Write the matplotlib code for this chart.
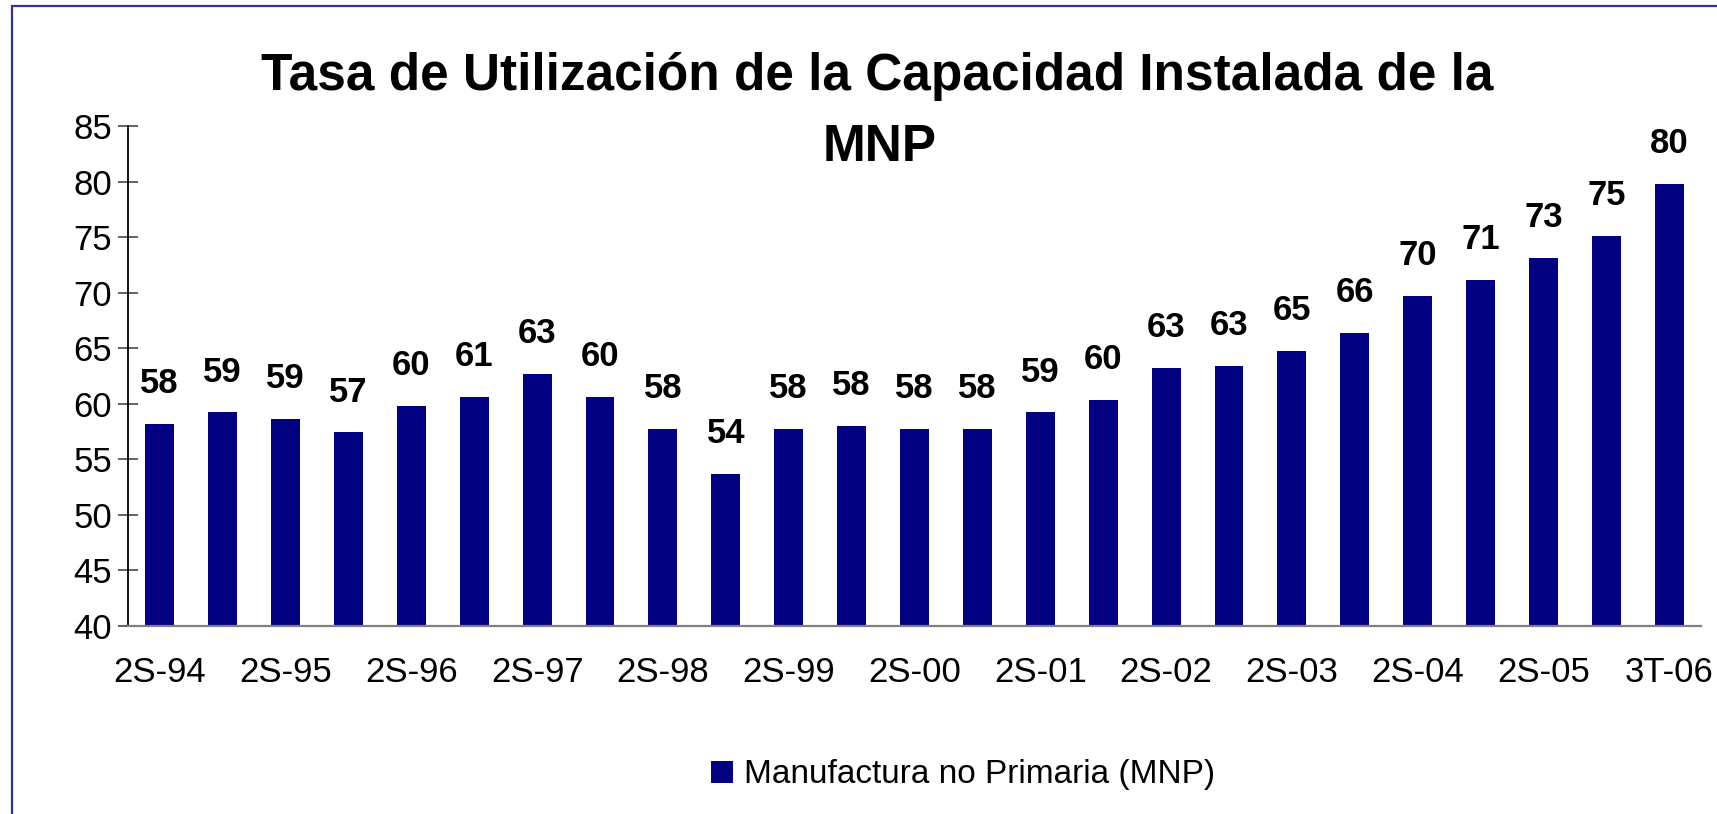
import matplotlib
matplotlib.use("Agg")
import matplotlib.pyplot as plt
from matplotlib.patches import Patch, Rectangle

# ---- data ----
categories = ["2S-94", "1S-95", "2S-95", "1S-96", "2S-96", "1S-97", "2S-97", "1S-98",
              "2S-98", "1S-99", "2S-99", "1S-00", "2S-00", "1S-01", "2S-01", "1S-02",
              "2S-02", "1S-03", "2S-03", "1S-04", "2S-04", "1S-05", "2S-05", "1T-06", "3T-06"]
values = [58.2, 59.2, 58.6, 57.4, 59.8, 60.6, 62.7, 60.6, 57.7, 53.7, 57.7, 58.0, 57.7,
          57.7, 59.2, 60.3, 63.2, 63.4, 64.7, 66.4, 69.7, 71.1, 73.1, 75.1, 79.8]
bar_labels = ["58", "59", "59", "57", "60", "61", "63", "60", "58", "54", "58", "58", "58",
              "58", "59", "60", "63", "63", "65", "66", "70", "71", "73", "75", "80"]
tick_labels = ["2S-94", "2S-95", "2S-96", "2S-97", "2S-98", "2S-99", "2S-00", "2S-01",
               "2S-02", "2S-03", "2S-04", "2S-05", "3T-06"]
title_line1 = "Tasa de Utilización de la Capacidad Instalada de la"
title_line2 = "MNP"
series_name = "Manufactura no Primaria (MNP)"

FONT = ["Liberation Sans", "DejaVu Sans"]
plt.rcParams["font.family"] = FONT

W, H = 1717, 814
fig = plt.figure(figsize=(W / 100, H / 100), dpi=100)

# outer frame (left and top visible)
fig.patches.append(Rectangle((11.8 / W, -0.05), 1.2, 1 - 6 / H + 0.05,
                             transform=fig.transFigure, fill=False,
                             edgecolor="#333399", linewidth=1.6))

ax = fig.add_axes([128.3 / W, 1 - 625.7 / H, 1572.4 / W, (625.7 - 126) / H])
x = list(range(len(values)))
bars = ax.bar(x, values, width=0.46, color="#000080", zorder=2)

ax.set_xlim(-0.5, len(values) - 0.5)
ax.set_ylim(40, 85)
ax.set_yticks(range(40, 86, 5))
ax.set_xticks(x[::2])
ax.set_xticklabels(tick_labels)

for s in ["top", "right"]:
    ax.spines[s].set_visible(False)
ax.spines["left"].set_color("black")
ax.spines["left"].set_linewidth(1.3)
ax.spines["bottom"].set_color("#808080")
ax.spines["bottom"].set_linewidth(1.6)

ax.tick_params(axis="y", direction="inout", length=13.7, width=1.3, color="#555555",
               pad=5, labelsize=25)
ax.tick_params(axis="x", length=0, pad=22, labelsize=25)

for xi, v, lab in zip(x, values, bar_labels):
    ax.annotate(lab, (xi, v), xytext=(0, 22.3), textcoords="offset points",
                ha="center", va="baseline", fontsize=25, fontweight="bold")

fig.text(877 / W, 1 - 90 / H, title_line1, ha="center", va="baseline",
         fontsize=37, fontweight="bold")
fig.text(880 / W, 1 - 161 / H, title_line2, ha="center", va="baseline",
         fontsize=37, fontweight="bold")

handle = Patch(facecolor="#000080", edgecolor="none")
fig.legend([handle], [series_name], loc="center left",
           bbox_to_anchor=(711 / W, 1 - 775 / H), frameon=False, fontsize=24,
           borderpad=0, borderaxespad=0, handlelength=0.66, handleheight=0.66,
           handletextpad=0.34)

fig.savefig("out.png", dpi=100)
